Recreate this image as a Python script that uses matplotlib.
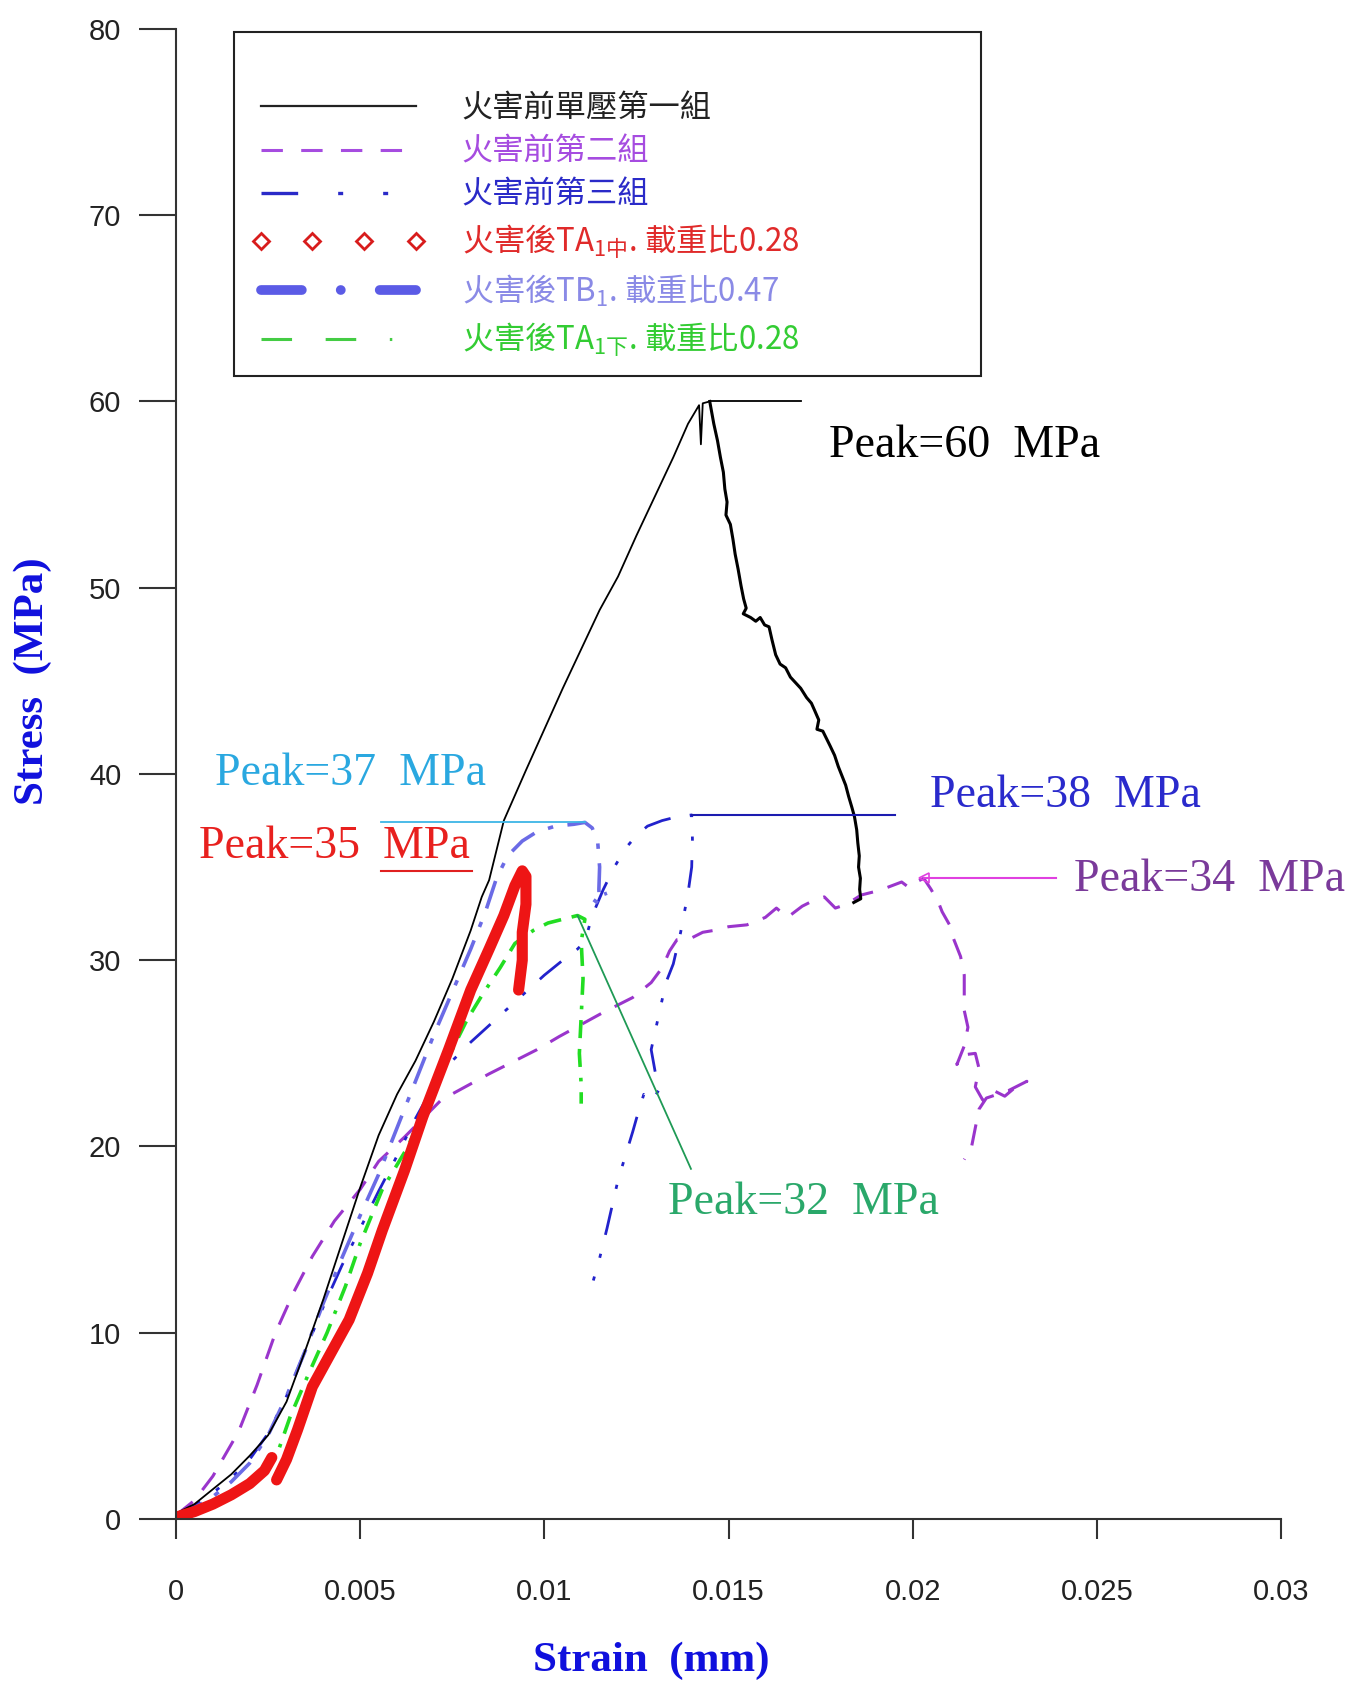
import matplotlib
matplotlib.use('Agg')
import matplotlib.pyplot as plt
from matplotlib.lines import Line2D
import numpy as np

plt.rcParams['font.family'] = ['Noto Sans CJK TC', 'DejaVu Sans']
plt.rcParams['mathtext.fontset'] = 'custom'
plt.rcParams['mathtext.rm'] = 'Noto Sans CJK TC'
plt.rcParams['mathtext.default'] = 'rm'

# 火害前單壓第一組
g1_strain = [0, 0.0005, 0.001, 0.0015, 0.002, 0.0025, 0.003, 0.0035, 0.004, 0.0045,
             0.005, 0.0055, 0.006, 0.0065, 0.007, 0.0075, 0.008, 0.0083, 0.0085, 0.0089,
             0.0095, 0.0100, 0.0105, 0.0110, 0.0115, 0.0120, 0.0125, 0.0130, 0.0135, 0.0139,
             0.0142, 0.01425, 0.0143, 0.01449]
g1_stress = [0.3, 0.8, 1.6, 2.4, 3.4, 4.5, 6.3, 9.0, 11.8, 14.8,
             17.8, 20.6, 22.8, 24.6, 26.7, 29.0, 31.6, 33.4, 34.3, 37.5,
             40.2, 42.4, 44.6, 46.7, 48.8, 50.6, 52.8, 54.9, 57.0, 58.8,
             59.8, 57.7, 59.9, 60.0]
# post-peak branch of group 1
g1_post_strain = [0.01449, 0.01460, 0.01470, 0.01478, 0.01486, 0.01490, 0.01496, 0.01493,
                  0.01505, 0.01512, 0.01518, 0.01526, 0.01534, 0.01541, 0.01548, 0.01540,
                  0.01560, 0.01574, 0.01586, 0.01598, 0.01610, 0.01618, 0.01628, 0.01640,
                  0.01655, 0.01668, 0.01682, 0.01696, 0.01712, 0.01725, 0.01734, 0.01745,
                  0.01740, 0.01756, 0.01766, 0.01776, 0.01788, 0.01798, 0.01808, 0.01818,
                  0.01826, 0.01835, 0.01842, 0.01848, 0.01851, 0.01855, 0.01853, 0.01858,
                  0.01856, 0.01859, 0.01840]
g1_post_stress = [60.0, 58.8, 57.9, 57.0, 56.2, 55.3, 54.6, 53.9,
                  53.4, 52.6, 51.8, 51.0, 50.1, 49.4, 48.9, 48.6,
                  48.4, 48.2, 48.4, 48.0, 47.9, 47.2, 46.4, 45.9,
                  45.7, 45.2, 44.9, 44.6, 44.1, 43.8, 43.4, 42.9,
                  42.4, 42.3, 41.9, 41.5, 41.0, 40.4, 39.9, 39.4,
                  38.8, 38.2, 37.7, 37.0, 36.3, 35.6, 35.0, 34.4,
                  33.8, 33.3, 33.1]

# 火害前第二組
g2_strain = [0, 0.0005, 0.001, 0.0017, 0.0022, 0.0027, 0.0032, 0.0037, 0.0043, 0.005,
             0.0055, 0.0062, 0.0072, 0.0085, 0.0098, 0.0104, 0.0116, 0.0124, 0.0129, 0.0132,
             0.0134, 0.0136, 0.0140, 0.0143, 0.0146, 0.0150, 0.0155, 0.0160, 0.0163, 0.0166,
             0.0170, 0.0173, 0.0176, 0.0179, 0.0182, 0.0186, 0.0190, 0.0193, 0.0197, 0.0199,
             0.0201, 0.0203, 0.0205, 0.0207, 0.0208, 0.0210, 0.0211, 0.0213, 0.0214, 0.0214,
             0.0214, 0.0215, 0.0214, 0.0212, 0.0213, 0.0217, 0.0218, 0.0217, 0.0219, 0.0222,
             0.0225, 0.0228, 0.0231, 0.0226, 0.0220, 0.0218, 0.0217, 0.0216, 0.0214]
g2_stress = [0.2, 1.0, 2.3, 4.7, 7.2, 10.0, 12.2, 14.1, 16.0, 17.7,
             19.2, 20.5, 22.5, 23.9, 25.2, 25.9, 27.2, 28.0, 28.8, 29.6,
             30.5, 31.1, 31.2, 31.5, 31.6, 31.8, 31.9, 32.3, 32.8, 32.3,
             32.9, 33.2, 33.4, 32.8, 33.0, 33.5, 33.7, 33.9, 34.2, 33.9,
             34.2, 34.4, 33.8, 33.1, 32.6, 31.9, 31.2, 30.2, 29.2, 28.4,
             27.3, 26.4, 25.4, 24.4, 24.9, 25.0, 24.2, 23.2, 22.5, 23.0,
             22.7, 23.2, 23.5, 23.0, 22.6, 22.0, 21.0, 20.0, 19.3]

# 火害前第三組
g3_strain = [0, 0.0005, 0.001, 0.0015, 0.002, 0.0025, 0.003, 0.0035, 0.004, 0.0045,
             0.005, 0.0055, 0.006, 0.0065, 0.007, 0.0075, 0.008, 0.0085, 0.009, 0.0095,
             0.0100, 0.0105, 0.0109, 0.0111, 0.0113, 0.0116, 0.0119, 0.0122, 0.0125, 0.0128,
             0.0132, 0.0136, 0.0140, 0.01402, 0.0140, 0.0139, 0.0137, 0.0135, 0.0133, 0.0131,
             0.0129, 0.0131, 0.0129, 0.0127, 0.0125, 0.0124, 0.0122, 0.0120, 0.0117, 0.0115,
             0.0112]
g3_stress = [0.2, 0.7, 1.4, 2.2, 3.2, 4.6, 6.6, 9.0, 11.4, 13.6,
             15.6, 17.6, 19.5, 21.5, 23.3, 24.6, 25.6, 26.5, 27.4, 28.3,
             29.2, 30.0, 30.6, 31.0, 32.4, 33.8, 35.0, 36.0, 36.7, 37.2,
             37.5, 37.7, 37.8, 36.5, 35.0, 33.6, 31.5, 29.8, 28.8, 27.0,
             25.2, 23.0, 22.4, 22.8, 21.5, 20.8, 19.5, 18.2, 15.6, 14.0,
             11.9]

# 火害後TA1中, 載重比0.28 (two loading segments)
ta_mid_strain = [0, 0.0005, 0.001, 0.0015, 0.002, 0.0024, 0.0026, np.nan,
                 0.00273, 0.0030, 0.0033, 0.0037, 0.0042, 0.0047, 0.0052, 0.0056, 0.0062,
                 0.0067, 0.0074, 0.0080, 0.0085, 0.0089, 0.0092, 0.0094, 0.0095, 0.0095,
                 0.0094, 0.0094, 0.0093]
ta_mid_stress = [0.1, 0.4, 0.8, 1.3, 1.9, 2.6, 3.3, np.nan,
                 2.1, 3.2, 4.8, 7.1, 8.9, 10.7, 13.2, 15.5, 18.7,
                 21.6, 25.2, 28.4, 30.6, 32.4, 34.0, 34.8, 34.5, 33.0,
                 31.5, 30.0, 28.4]

# 火害後TB1, 載重比0.47
tb_strain = [0, 0.0005, 0.001, 0.0015, 0.002, 0.0025, 0.003, 0.0035, 0.004, 0.0045,
             0.005, 0.0055, 0.006, 0.0065, 0.007, 0.0075, 0.008, 0.0084, 0.0087, 0.0090,
             0.0094, 0.0098, 0.0103, 0.0108, 0.0111, 0.0113, 0.01145, 0.0115, 0.01148, 0.0115,
             0.0113, 0.0117]
tb_stress = [0.2, 0.6, 1.2, 2.0, 3.0, 4.5, 6.6, 9.0, 11.6, 14.0,
             16.3, 18.5, 21.0, 23.5, 26.0, 28.3, 30.6, 32.6, 34.4, 35.6,
             36.4, 36.9, 37.2, 37.3, 37.4, 37.1, 36.3, 35.0, 33.8, 33.0,
             33.3, 33.6]

# 火害後TA1下, 載重比0.28
ta_low_strain = [0, 0.0005, 0.001, 0.0015, 0.002, 0.0025, 0.0028, 0.0031, 0.0036, 0.0041,
                 0.0046, 0.005, 0.0056, 0.0063, 0.0068, 0.0074, 0.0079, 0.0083, 0.0088, 0.0092,
                 0.0097, 0.0101, 0.0105, 0.0109, 0.0111, 0.0110, 0.01105, 0.0110, 0.01095, 0.0110,
                 0.0110]
ta_low_stress = [0.1, 0.4, 0.8, 1.3, 1.8, 2.6, 3.8, 5.5, 7.8, 10.0,
                 12.5, 14.8, 17.7, 20.0, 22.3, 24.8, 26.8, 28.1, 29.6, 30.9,
                 31.6, 32.0, 32.2, 32.4, 32.2, 31.0, 29.0, 27.0, 25.0, 23.3,
                 22.3]

x_ticks = [0, 0.005, 0.01, 0.015, 0.02, 0.025, 0.03]
x_ticklabels = ['0', '0.005', '0.01', '0.015', '0.02', '0.025', '0.03']
y_ticks = [0, 10, 20, 30, 40, 50, 60, 70, 80]

legend_labels = ['火害前單壓第一組', '火害前第二組', '火害前第三組',
                 '火害後TA$_{1中}$. 載重比0.28', '火害後TB$_{1}$. 載重比0.47',
                 '火害後TA$_{1下}$. 載重比0.28']
legend_colors = ['#222222', '#a64ce0', '#2a2ac8', '#e02a2a', '#8a8ae6', '#33cc33']

C_BLACK = 'black'
C_PURPLE = '#9a35cc'
C_BLUE = '#2222cc'
C_RED = '#ee1515'
C_TB = '#6b6be6'
C_GREEN = '#22dd22'

fig = plt.figure(figsize=(13.49, 16.82), dpi=100)
ax = fig.add_axes([0.1305, 0.0969, 0.8191, 0.8859])

ax.plot(g2_strain, g2_stress, color=C_PURPLE, lw=2.2, dashes=(7, 5))
ax.plot(g3_strain, g3_stress, color=C_BLUE, lw=2.0, dashes=(10, 7, 1.5, 7, 1.5, 7))
ax.plot(tb_strain, tb_stress, color=C_TB, lw=2.6, dashes=(8, 4, 1.5, 4))
ax.plot(ta_low_strain, ta_low_stress, color=C_GREEN, lw=2.6, dashes=(5, 3, 5, 3, 1, 3))
ax.plot(g1_strain, g1_stress, color=C_BLACK, lw=1.3)
ax.plot(g1_post_strain, g1_post_stress, color=C_BLACK, lw=2.2)
ax.plot(ta_mid_strain, ta_mid_stress, color=C_RED, lw=8, solid_capstyle='round')

# peak guide lines, anchored at each curve's maximum
def peak_of(xs, ys):
    i = int(np.nanargmax(ys))
    return xs[i], ys[i]

px, py = peak_of(g1_post_strain, g1_post_stress)
ax.plot([px, 0.01696], [py, py], color='black', lw=1.3)
ax.text(0.01772, 57.0, 'Peak=60  MPa', color='black', family='Liberation Serif',
        fontsize=33, va='baseline')

px, py = peak_of(tb_strain, tb_stress)
ax.plot([0.00556, px], [py, py], color='#3db5e6', lw=1.3)
ax.text(0.00105, 39.4, 'Peak=37  MPa', color='#2aa8e0', family='Liberation Serif',
        fontsize=33, va='baseline')

px, py = peak_of(ta_mid_strain, ta_mid_stress)
ax.plot([0.00556, 0.00803], [py, py], color='#e02020', lw=1.5)
ax.text(0.00061, py + 0.7, 'Peak=35  MPa', color='#e8201e', family='Liberation Serif',
        fontsize=33, va='baseline')

px, py = peak_of(g3_strain, g3_stress)
ax.plot([px, 0.01953], [py, py], color='#1c1cb0', lw=1.5)
ax.text(0.02048, py + 0.4, 'Peak=38  MPa', color='#2a2acc', family='Liberation Serif',
        fontsize=33, va='baseline')

px, py = peak_of(g2_strain, g2_stress)
ax.plot([px, 0.02389], [py, py], color='#e040e0', lw=1.5)
ax.plot([px], [py], marker='<', ms=7, mfc='none', mec='#e040e0', mew=1.2)
ax.text(0.02438, py - 0.7, 'Peak=34  MPa', color='#7a3a9a', family='Liberation Serif',
        fontsize=33, va='baseline')

px, py = peak_of(ta_low_strain, ta_low_stress)
ax.plot([px, 0.01398], [py, 18.8], color='#1f9a55', lw=1.3)
ax.text(0.01336, 16.4, 'Peak=32  MPa', color='#2aa86a', family='Liberation Serif',
        fontsize=33, va='baseline')

ax.set_xlim(0, 0.03)
ax.set_ylim(0, 80)
for side in ('top', 'right'):
    ax.spines[side].set_visible(False)
for side in ('left', 'bottom'):
    ax.spines[side].set_linewidth(1.5)
    ax.spines[side].set_color('#333333')

ax.set_xticks(x_ticks)
ax.set_xticklabels(x_ticklabels, family='Liberation Sans', fontsize=21, color='#222222')
ax.set_yticks(y_ticks)
ax.set_yticklabels([str(v) for v in y_ticks], family='Liberation Sans', fontsize=21,
                   color='#222222')
ax.tick_params(axis='x', direction='out', length=14.5, width=1.5, color='#333333', pad=28)
ax.tick_params(axis='y', direction='out', length=26.5, width=1.5, color='#333333', pad=13)

fig.text(0.4826, 0.0125, 'Strain  (mm)', color='#1010dd', family='Liberation Serif',
         fontweight='bold', fontsize=31, ha='center', va='center')
fig.text(0.024, 0.595, 'Stress  (MPa)', color='#1010dd', family='Liberation Serif',
         fontweight='bold', fontsize=31, ha='center', va='center', rotation=90)

handles = [
    Line2D([], [], color='#222222', lw=1.6),
    Line2D([], [], color='#a64ce0', lw=2.2, dashes=(7, 6)),
    Line2D([], [], color='#2a2ac8', lw=2.4, dashes=(11, 12, 1.5, 12, 1.5, 12)),
    Line2D([], [], color='#d81c1c', ls='none', marker='D', ms=8, mfc='none', mew=2),
    Line2D([], [], color='#5b5be6', lw=7, dashes=(4.2, 4.0, 0.01, 4.0),
           dash_capstyle='round'),
    Line2D([], [], color='#44cc44', lw=2.2, dashes=(10, 11, 10, 11, 0.8, 11)),
]
leg = ax.legend(handles, legend_labels, loc='upper left',
                bbox_to_anchor=(0.0525, 0.998, 0.676, 0.0), mode='expand',
                borderaxespad=0, fancybox=False, framealpha=1, edgecolor='#222222',
                handlelength=5.56, handletextpad=1.17, labelspacing=0.36, numpoints=4,
                title=' ', title_fontsize=23, borderpad=0.55,
                prop={'family': 'Noto Sans CJK TC', 'size': 22.5})
leg.get_frame().set_linewidth(1.5)
for txt, col in zip(leg.get_texts(), legend_colors):
    txt.set_color(col)

fig.savefig('out.png', dpi=100, facecolor='white')
